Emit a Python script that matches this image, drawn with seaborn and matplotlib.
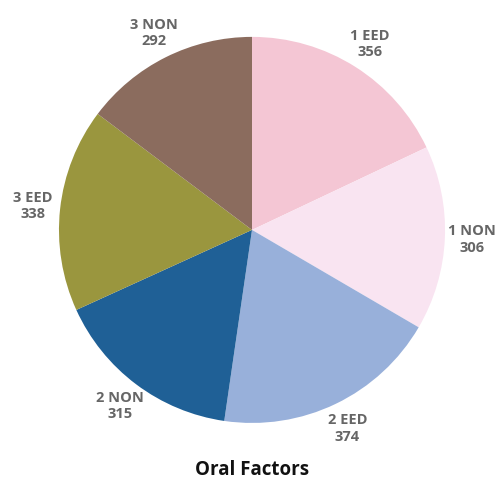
import matplotlib
matplotlib.use("Agg")
import matplotlib.pyplot as plt
import seaborn as sns

categories = ["1 EED", "1 NON", "2 EED", "2 NON", "3 EED", "3 NON"]
values = [356, 306, 374, 315, 338, 292]
colors = ["#f4c6d4", "#f9e4f1", "#98b0da", "#1f6096", "#9a963e", "#8b6c5e"]

sns.set_theme(style="white")
plt.rcParams["font.family"] = ["Open Sans", "DejaVu Sans"]

fig = plt.figure(figsize=(5.04, 4.82), dpi=100)
ax = fig.add_axes([0.117, 0.1225, 0.766, 0.801])

labels = [f"{c}\n{v}" for c, v in zip(categories, values)]
wedges, texts = ax.pie(
    values,
    labels=labels,
    colors=colors,
    startangle=90,
    counterclock=False,
    labeldistance=1.14,
    wedgeprops=dict(linewidth=0),
    textprops=dict(color="#666666", fontsize=10.5, fontweight="bold",
                   ha="center", va="center", linespacing=1.25),
)
for t in texts:
    t.set_horizontalalignment("center")
    t.set_clip_on(False)
ax.set_xlim(-1, 1)
ax.set_ylim(-1, 1)
ax.set_aspect("equal")
ax.axis("off")

fig.text(0.5, 0.025, "Oral Factors", ha="center", va="center",
         fontsize=13.5, fontweight="bold", color="#111111")

fig.savefig("out.png", dpi=100, facecolor="white")
